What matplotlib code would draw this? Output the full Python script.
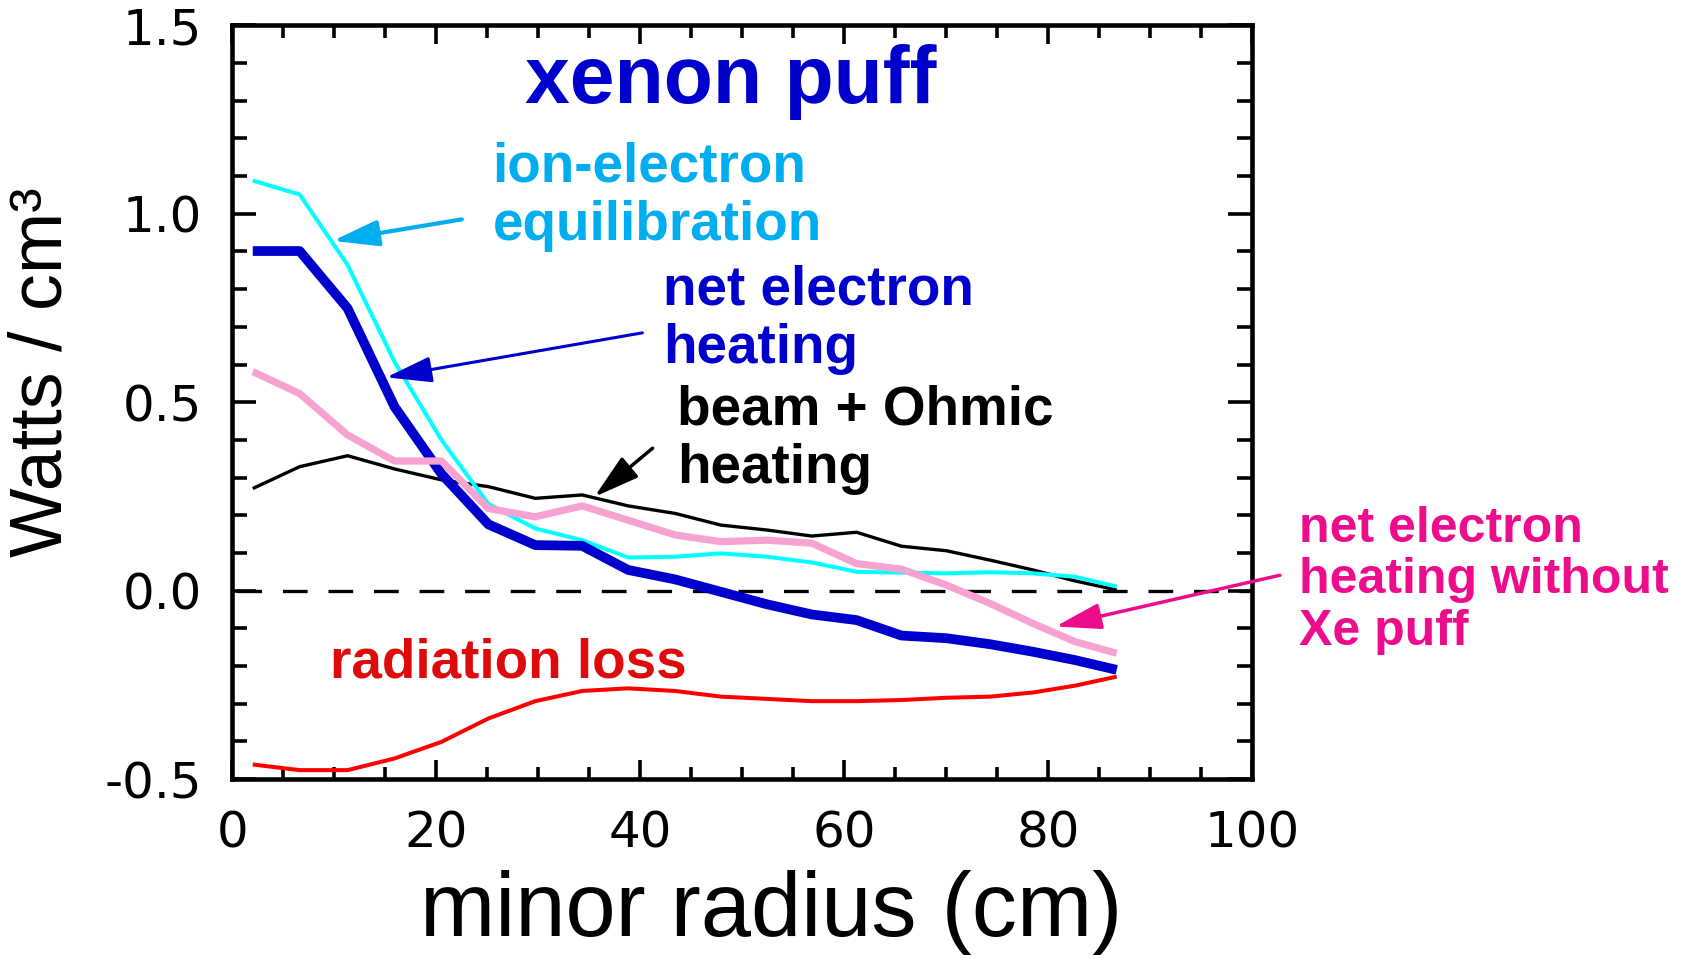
import numpy as np
import matplotlib
matplotlib.use('Agg')
import matplotlib.pyplot as plt
from matplotlib.patches import FancyArrowPatch
from matplotlib.ticker import MultipleLocator, FormatStrFormatter

'''
Power balance profiles for the xenon puff discharge
'''

plt.rcParams['font.family'] = ['Liberation Sans', 'DejaVu Sans']
plt.rcParams['axes.unicode_minus'] = False
plt.rcParams['lines.scale_dashes'] = False

# minor radius of each profile point (cm)
radius = [2.0, 6.6, 11.3, 15.9, 20.5, 25.1, 29.7, 34.3, 38.8, 43.4,
          47.9, 52.4, 56.8, 61.2, 65.6, 70.0, 74.3, 78.5, 82.6, 86.7]

# power densities (W/cm^3)
ion_electron = [1.088, 1.051, 0.864, 0.607, 0.400, 0.230, 0.165, 0.134, 0.088, 0.090,
                0.099, 0.090, 0.075, 0.050, 0.048, 0.046, 0.049, 0.046, 0.037, 0.011]
net_heating = [0.901, 0.901, 0.749, 0.488, 0.310, 0.176, 0.121, 0.119, 0.055, 0.030,
               -0.003, -0.036, -0.063, -0.078, -0.119, -0.126, -0.142, -0.162, -0.184, -0.210]
beam_ohmic = [0.271, 0.329, 0.358, 0.323, 0.294, 0.276, 0.245, 0.254, 0.225, 0.205,
              0.174, 0.161, 0.145, 0.155, 0.118, 0.106, 0.081, 0.055, 0.026, 0.002]
net_no_puff = [0.581, 0.523, 0.413, 0.344, 0.344, 0.218, 0.196, 0.225, 0.187, 0.148,
               0.130, 0.134, 0.126, 0.072, 0.057, 0.015, -0.034, -0.087, -0.135, -0.166]
radiation = [-0.461, -0.476, -0.476, -0.445, -0.401, -0.339, -0.293, -0.266, -0.259, -0.266,
             -0.281, -0.287, -0.293, -0.293, -0.290, -0.284, -0.281, -0.270, -0.252, -0.228]

CYAN_TXT = '#00aeef'
BLUE = '#0000cc'
PINK = '#f7a3d2'
MAGENTA = '#ec0c8c'
RED_TXT = '#dd0b0b'

fig = plt.figure(figsize=(16.91, 9.59), dpi=100)
ax = fig.add_axes([0.1374, 0.1875, 0.6032, 0.7862])

ax.plot([0, 100], [0, 0], color='k', lw=2.4, linestyle=(29.3, (17.8, 15.0)), zorder=1)
ax.plot(radius, radiation, color='#ff0000', lw=2.9, solid_capstyle='butt', zorder=2)
ax.plot(radius, beam_ohmic, color='k', lw=2.4, solid_capstyle='butt', zorder=3)
ax.plot(radius, ion_electron, color='#00ffff', lw=2.9, solid_capstyle='butt', zorder=4)
ax.plot(radius, net_heating, color=BLUE, lw=7.0, solid_capstyle='butt', zorder=5)
ax.plot(radius, net_no_puff, color=PINK, lw=5.2, solid_capstyle='butt', zorder=6)

ax.set_xlim(0, 100)
ax.set_ylim(-0.5, 1.5)
ax.xaxis.set_major_locator(MultipleLocator(20))
ax.xaxis.set_minor_locator(MultipleLocator(5))
ax.yaxis.set_major_locator(MultipleLocator(0.5))
ax.yaxis.set_minor_locator(MultipleLocator(0.1))
ax.yaxis.set_major_formatter(FormatStrFormatter('%.1f'))
ax.tick_params(which='both', direction='in', top=True, right=True, width=2.6)
ax.tick_params(axis='x', which='major', length=14, pad=22)
ax.tick_params(axis='x', which='minor', length=9)
ax.tick_params(axis='y', which='major', length=17, pad=22)
ax.tick_params(axis='y', which='minor', length=11)
for lab in ax.get_xticklabels() + ax.get_yticklabels():
    lab.set_fontfamily('DejaVu Sans')
    lab.set_fontsize(36)
for sp in ax.spines.values():
    sp.set_linewidth(3.3)

fig.text(42 / 1691, 1 - 372 / 959, 'Watts / cm³', rotation=90,
         ha='center', va='center', fontsize=53)
fig.text(771 / 1691, 1 - 936 / 959, 'minor radius (cm)',
         ha='center', va='baseline', fontsize=65)


def label_lines(x, y0, lines, step, color, size):
    for i, line in enumerate(lines):
        ax.text(x, y0 - i * step, line, color=color, fontsize=size,
                fontweight='bold', ha='left', va='baseline')


def arrow(tail, tip, color, lw, hl=28, hw=8):
    ar = FancyArrowPatch(tail, tip, arrowstyle='-|>,head_length=%g,head_width=%g' % (hl, hw),
                         mutation_scale=1, color=color, lw=lw, shrinkA=0, shrinkB=0,
                         clip_on=False, zorder=7)
    ax.add_patch(ar)


ax.text(48.9, 1.293, 'xenon puff', color=BLUE, fontsize=58, fontweight='bold',
        ha='center', va='baseline')
label_lines(25.5, 1.085, ['ion-electron', 'equilibration'], 0.155, CYAN_TXT, 39.5)
label_lines(42.2, 0.758, ['net electron', 'heating'], 0.155, BLUE, 39.5)
label_lines(43.6, 0.440, ['beam + Ohmic', 'heating'], 0.154, 'k', 39.5)
label_lines(9.6, -0.231, ['radiation loss'], 0.0, RED_TXT, 39.5)
label_lines(104.6, 0.130, ['net electron', 'heating without', 'Xe puff'], 0.137, MAGENTA, 36)

arrow((22.5, 0.985), (9.84, 0.928), CYAN_TXT, 3.0)
arrow((40.2, 0.684), (15.1, 0.566), BLUE, 2.2)
arrow((41.2, 0.378), (35.5, 0.249), 'k', 2.5)
arrow((102.7, 0.041), (80.7, -0.095), MAGENTA, 2.5)

fig.savefig('out.png', dpi=100)
